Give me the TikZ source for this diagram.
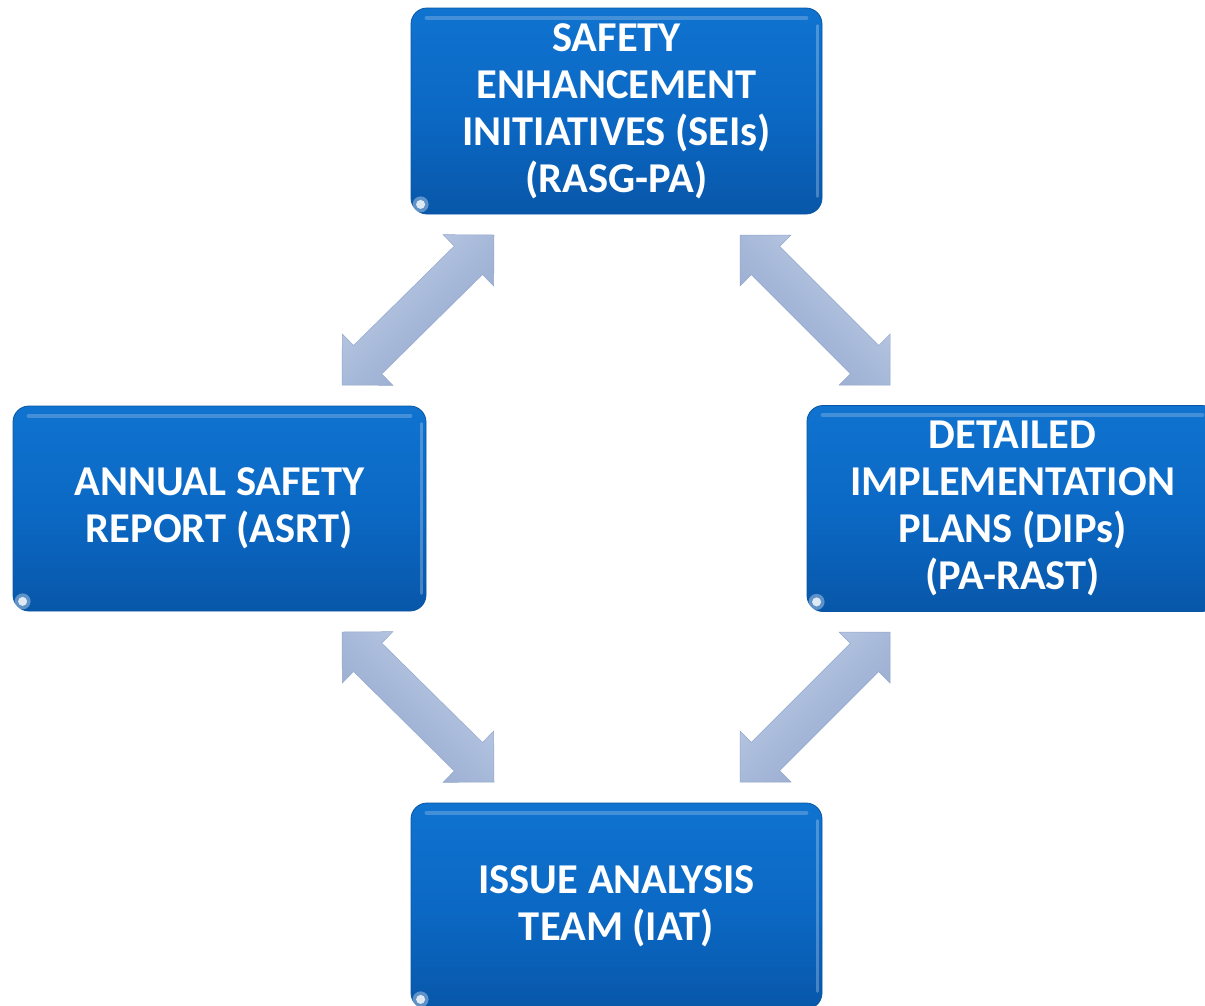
\documentclass[tikz,border=0pt]{standalone}
\usepackage{fontspec}
\setmainfont{Carlito}
\usetikzlibrary{calc}
\definecolor{boxtop}{HTML}{0F73CF}
\definecolor{boxmid}{HTML}{0B69C5}
\definecolor{boxbot}{HTML}{0857A9}
\definecolor{boxedge}{HTML}{0A56A4}
\definecolor{arrlight}{HTML}{C2D0E9}
\definecolor{arrmid}{HTML}{A7B9D9}
\definecolor{arrdark}{HTML}{93A7CC}
\tikzset{
  bluebox/.style={rectangle, rounded corners=16pt, draw=boxedge, line width=0.8pt,
    top color=boxtop, bottom color=boxbot, middle color=boxmid,
    minimum width=411pt, minimum height=206pt, inner sep=0pt,
    text=white, align=center,
    font=\bfseries\fontsize{42.5}{47}\selectfont},
  blockarrow/.style={draw=arrdark, line width=0.5pt, top color=arrlight, bottom color=arrdark, middle color=arrmid}
}
\newcommand{\dblarrow}[3]{%
  \path[blockarrow,#3]
    (#1)
    -- ($($(#1)!36pt!(#2)$)!36pt!90:(#2)$)
    -- ($($(#1)!36pt!(#2)$)!20pt!90:(#2)$)
    -- ($($(#2)!36pt!(#1)$)!20pt!-90:(#1)$)
    -- ($($(#2)!36pt!(#1)$)!36pt!-90:(#1)$)
    -- (#2)
    -- ($($(#2)!36pt!(#1)$)!36pt!90:(#1)$)
    -- ($($(#2)!36pt!(#1)$)!20pt!90:(#1)$)
    -- ($($(#1)!36pt!(#2)$)!20pt!-90:(#2)$)
    -- ($($(#1)!36pt!(#2)$)!36pt!-90:(#2)$)
    -- cycle;}
\begin{document}
\begin{tikzpicture}[x=1pt,y=-1pt]
\path[use as bounding box] (0,0) rectangle (1205,1005);
\clip (0,0) rectangle (1205,1005);
\fill[white] (0,0) rectangle (1205,1005);

\node[bluebox] (sei) at (616.5,111) {SAFETY\\ENHANCEMENT\\INITIATIVES (SEIs)\\(RASG-PA)};
\node[bluebox, minimum width=413pt, minimum height=205pt] (asr) at (219.5,508.5) {ANNUAL SAFETY\\REPORT (ASRT)};
\node[bluebox] (dip) at (1012.5,508.5) {DETAILED\\IMPLEMENTATION\\PLANS (DIPs)\\(PA-RAST)};
\node[bluebox] (iat) at (616.5,906) {ISSUE ANALYSIS\\TEAM (IAT)};

% highlights and glints
\foreach \n in {sei,asr,dip,iat}{
  \draw[white,opacity=0.22,line width=4pt,line cap=round] ($(\n.north west)+(16,10)$) -- ($(\n.north east)+(-16,10)$);
  \draw[white,opacity=0.25,line width=3pt,line cap=round] ($(\n.north east)+(-5,18)$) -- ($(\n.south east)+(-5,-18)$);
  \fill[white,opacity=0.35] ($(\n.south west)+(10,-10)$) circle (8pt);
  \fill[white,opacity=0.8] ($(\n.south west)+(10,-10)$) circle (4.5pt);
}

\coordinate (a1) at (342,385);
\coordinate (a2) at (494,235);
\coordinate (b1) at (740,235);
\coordinate (b2) at (890,385);
\coordinate (c1) at (342,632);
\coordinate (c2) at (494,782);
\coordinate (d1) at (890,632);
\coordinate (d2) at (740,782);

\dblarrow{a1}{a2}{shading angle=45}
\dblarrow{b1}{b2}{shading angle=-45}
\dblarrow{c1}{c2}{shading angle=-45}
\dblarrow{d1}{d2}{shading angle=45}
\end{tikzpicture}
\end{document}
